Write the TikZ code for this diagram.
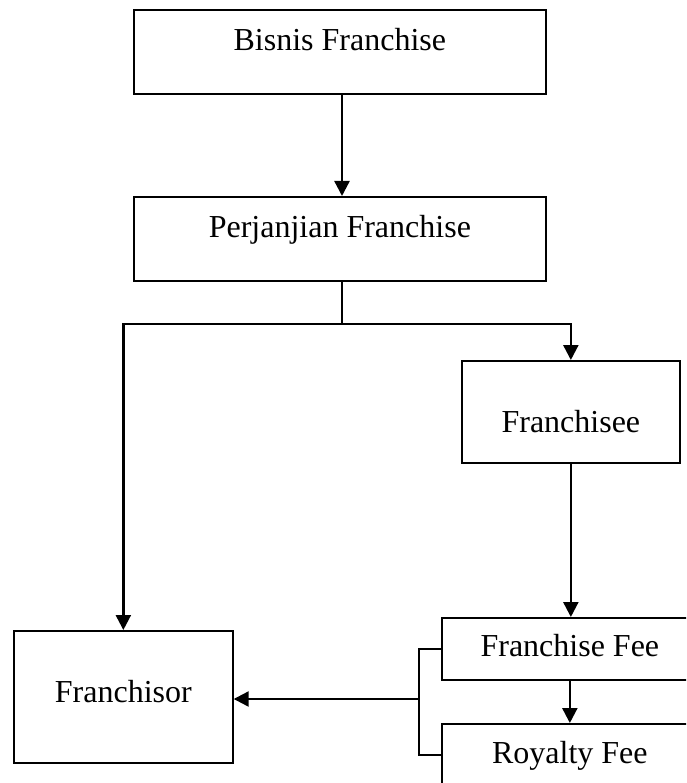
\documentclass[tikz,border=0pt]{standalone}
\usepackage{fontspec}
\setmainfont{Liberation Serif}
\usetikzlibrary{arrows.meta}
\begin{document}
\begin{tikzpicture}[x=1pt,y=-1pt,
  box/.style={draw, line width=1.7pt, inner sep=0pt, anchor=north west, align=center,
    font=\fontsize{32}{38}\selectfont},
  conn/.style={line width=2.3pt},
  thinconn/.style={line width=1.6pt},
  arr/.style={conn, -{Triangle[width=15pt,length=15pt]}}]
\useasboundingbox (0,0) rectangle (686,783);
\clip (0,0) rectangle (686,783);
\fill[white] (0,0) rectangle (686,783);
\node[box, minimum width=412pt, text height=41pt, text depth=43pt] (b) at (133,9) {Bisnis Franchise};
\node[box, minimum width=412pt, text height=41pt, text depth=43pt] (p) at (133,196) {Perjanjian Franchise};
\node[box, minimum width=218pt, text height=72pt, text depth=30pt] (fe) at (461,360) {Franchisee};
\node[box, minimum width=219pt, text height=72pt, text depth=60pt] (fo) at (13,630) {Franchisor};
\node[box, minimum width=256pt, text height=39pt, text depth=23pt] (ff) at (441,617) {Franchise Fee};
\node[box, minimum width=256pt, text height=40pt, text depth=22pt] (rf) at (441,723) {Royalty Fee};
\coordinate (bus) at (342,324);
\coordinate (br) at (419,699);
\draw[arr] (b.south -| bus) -- (p.north -| bus);
\draw[conn] (p.south -| bus) -- (bus);
\draw[arr] (bus) -| (fo.north);
\draw[arr] (bus) -| (fe.north);
\draw[arr] (fe.south) -- (fe.south |- ff.north);
\draw[arr] (ff.south) -- (rf.north);
\draw[thinconn] (ff.west) -| (br) |- (rf.west);
\draw[arr] (br) -- (br -| fo.east);
\end{tikzpicture}
\end{document}
